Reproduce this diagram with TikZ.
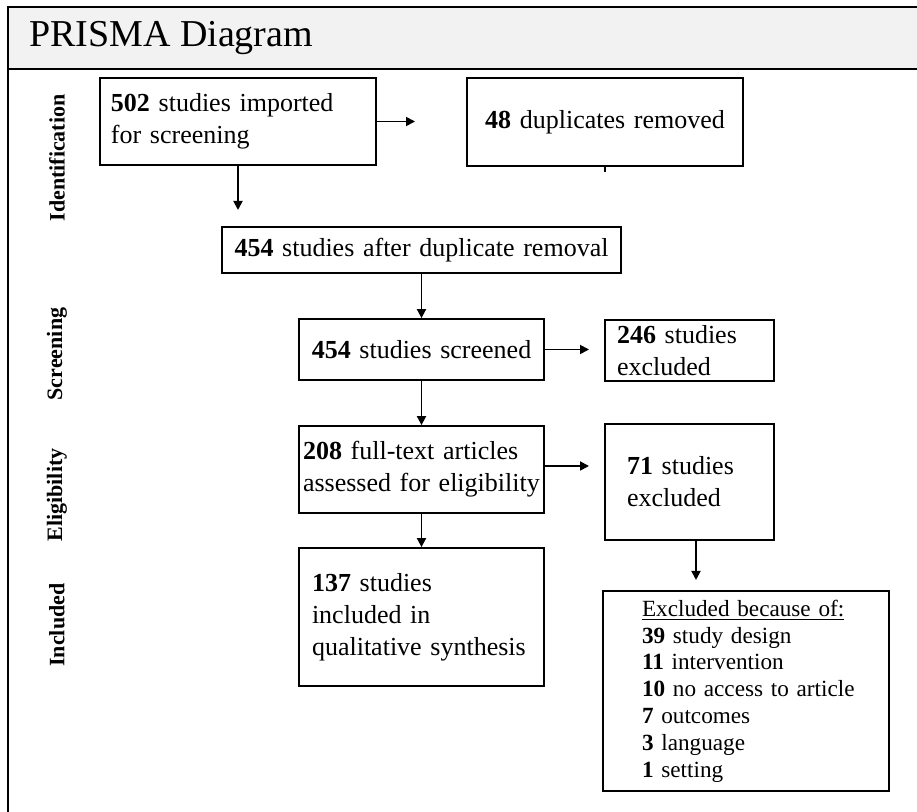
\documentclass[tikz,border=0pt]{standalone}
\usepackage{fontspec}
\setmainfont{Liberation Serif}
\usetikzlibrary{arrows.meta}

\newcommand{\boxfont}{\fontsize{13}{16}\selectfont\hyphenpenalty=10000 \exhyphenpenalty=10000 }

\tikzset{
  box/.style={draw, line width=0.9pt, inner ysep=0pt, font=\boxfont},
  arr/.style={line width=0.9pt, -{Triangle[length=4.5pt,width=4.5pt]}},
  phase/.style={rotate=90, font=\fontsize{11}{13}\selectfont\bfseries},
}

\begin{document}
\begin{tikzpicture}[x=0.5pt, y=-0.5pt]

	\clip (0,0) rectangle (917,812);

	% Frame and title
	\draw[fill=gray!10, line width=1pt] (8,7) rectangle (940,69);
	\draw[line width=1pt] (8,69) -- (8,830);
	\node[anchor=west, font=\fontsize{19}{22}\selectfont] (title) at (22,38) {PRISMA Diagram};

	% Phase labels
	\node[phase] (lid) at (57,158) {Identification};
	\node[phase] (lscr) at (57,354) {Screening};
	\node[phase] (lelig) at (57,495) {Eligibility};
	\node[phase] (lincl) at (57,625) {Included};

	% Boxes
	\node[box, minimum width=138pt, minimum height=43.5pt, text width=127pt, inner xsep=5.5pt, align=left] (imported) at (238,121.5) {\textbf{502} studies imported\\for screening};
	\node[box, minimum width=138pt, minimum height=44pt, text width=127pt, inner xsep=5.5pt, align=center] (duplicates) at (605,122) {\textbf{48} duplicates removed};
	\node[box, minimum width=199.5pt, minimum height=23pt, text width=190pt, inner xsep=4.75pt, align=center] (afterdup) at (421.5,250) {\textbf{454} studies after duplicate removal};

	\node[box, minimum width=122.5pt, minimum height=30.5pt, text width=115pt, inner xsep=3.75pt, align=center] (screened) at (421.5,349.5) {\textbf{454} studies screened};
	\node[box, minimum width=84.5pt, minimum height=30.5pt, text width=72.5pt, inner xsep=6pt, align=left] (excl1) at (689.5,350.5) {\textbf{246} studies\\excluded};

	\node[box, minimum width=122.5pt, minimum height=43.5pt, text width=118.5pt, inner xsep=2pt, align=left] (fulltext) at (421.5,469.5) {\textbf{208} full-text articles\\assessed for eligibility};
	\node[box, minimum width=84.5pt, minimum height=58pt, text width=62.5pt, inner xsep=11pt, align=left] (excl2) at (689.5,482) {\textbf{71} studies\\excluded};

	\node[box, minimum width=122.5pt, minimum height=69pt, text width=109.5pt, inner xsep=6.5pt, align=left] (included) at (421.5,617) {\textbf{137} studies\\included in\\qualitative synthesis};
	\node[box, minimum width=143pt, minimum height=100pt, text width=123.5pt, inner xsep=9.75pt, align=left, font=\fontsize{11.6}{13.4}\selectfont] (reasons) at (746,691) {\hspace*{9.75pt}\underline{Excluded because of:}\\\hspace*{9.75pt}\textbf{39} study design\\\hspace*{9.75pt}\textbf{11} intervention\\\hspace*{9.75pt}\textbf{10} no access to article\\\hspace*{9.75pt}\textbf{7} outcomes\\\hspace*{9.75pt}\textbf{3} language\\\hspace*{9.75pt}\textbf{1} setting};

	% Arrows
	\coordinate (idend) at (415,121.5);
	\coordinate (iddown) at (238,210);
	\coordinate (scrend) at (589,349.5);
	\coordinate (ftend) at (589,466);
	\coordinate (exend) at (696,580);

	\draw[arr] (imported.east) -- (idend);
	\draw[arr] (imported.south) -- (iddown);
	\draw[line width=0.9pt] (duplicates.south) -- ++(0,5);
	\draw[arr] (afterdup.south) -- (screened.north);
	\draw[arr] (screened.east) -- (scrend);
	\draw[arr] (screened.south) -- (fulltext.north);
	\draw[arr] (fulltext.east |- ftend) -- (ftend);
	\draw[arr] (fulltext.south) -- (included.north);
	\draw[arr] (excl2.south -| exend) -- (exend);

\end{tikzpicture}
\end{document}
